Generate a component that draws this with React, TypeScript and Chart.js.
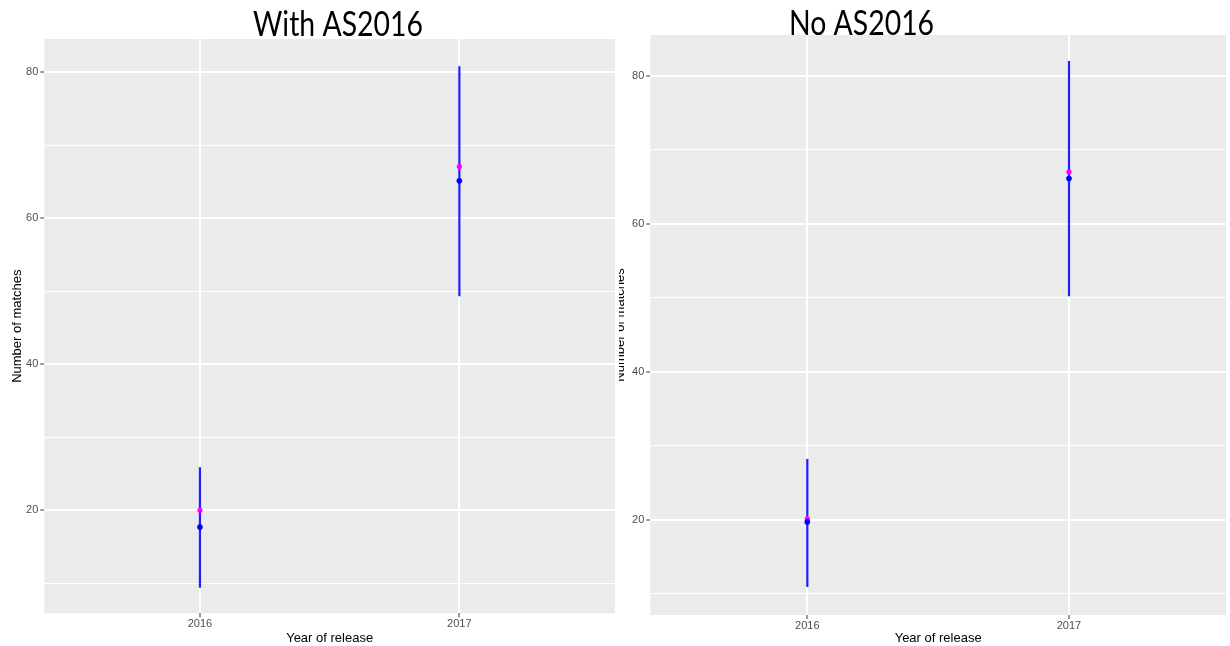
import React, { useEffect, useRef } from 'react';
import { Chart, registerables } from 'chart.js';

Chart.register(...registerables);

// ---- data ----
const years = [2016, 2017];
const xTickValues = [2016, 2017];
const yTickValues = [10, 20, 30, 40, 50, 60, 70, 80];
const yLabelValues = [20, 40, 60, 80];

const withLower = [9.4, 49.3];
const withUpper = [25.9, 80.8];
const withBlue = [17.7, 65.1];
const withMagenta = [20.0, 67.05];

const noLower = [10.9, 50.2];
const noUpper = [28.2, 82.0];
const noBlue = [19.7, 66.1];
const noMagenta = [20.1, 67.0];

const panelTitles = ['With AS2016', 'No AS2016'];
const xAxisTitle = 'Year of release';
const yAxisTitle = 'Number of matches';

const TICK_FONT = "'Liberation Sans', Arial, sans-serif";
const TITLE_FONT = "Lato, 'Open Sans', 'Liberation Sans', sans-serif";
const TITLE_REF_WIDTH = 170; // rendered width of the first panel title

type Panel = {
  title: string;
  lower: number[];
  upper: number[];
  blue: number[];
  magenta: number[];
  yMin: number;
  yMax: number;
  left: number;
  width: number;
  padTop: number;
  padRight: number;
  yAxisWidth: number;
  xAxisHeight: number;
  titleX: number;
  titleBaseline: number;
  yTitlePad: number;
};

const panels: Panel[] = [
  {
    title: panelTitles[0],
    lower: withLower,
    upper: withUpper,
    blue: withBlue,
    magenta: withMagenta,
    yMin: 5.9,
    yMax: 84.52,
    left: 0,
    width: 619,
    padTop: 39,
    padRight: 3.3,
    yAxisWidth: 44.3,
    xAxisHeight: 32.7,
    titleX: 338,
    titleBaseline: 36,
    yTitlePad: 9.2,
  },
  {
    title: panelTitles[1],
    lower: noLower,
    upper: noUpper,
    blue: noBlue,
    magenta: noMagenta,
    yMin: 7.12,
    yMax: 85.5,
    left: 619,
    width: 611,
    padTop: 35,
    padRight: 2,
    yAxisWidth: 31.3,
    xAxisHeight: 31,
    titleX: 242.5,
    titleBaseline: 35,
    yTitlePad: -6.3,
  },
];

function makeChart(canvas: HTMLCanvasElement, p: Panel) {
  const errorSets = years.map((yr, i) => ({
    label: 'range ' + yr,
    data: [
      { x: yr, y: p.lower[i] },
      { x: yr, y: p.upper[i] },
    ],
    showLine: true,
    borderColor: '#1f1fff',
    borderWidth: 2.2,
    pointRadius: 0,
    order: 2,
  }));

  const bgPlugin = {
    id: 'panelBg',
    beforeDraw(chart: any) {
      const { ctx, chartArea } = chart;
      ctx.save();
      ctx.fillStyle = '#EBEBEB';
      ctx.fillRect(chartArea.left, chartArea.top, chartArea.right - chartArea.left, chartArea.bottom - chartArea.top);
      ctx.restore();
    },
    afterDraw(chart: any) {
      const { ctx } = chart;
      ctx.save();
      ctx.fillStyle = '#000';
      ctx.font = `35px ${TITLE_FONT}`;
      const refW = ctx.measureText(panelTitles[0]).width;
      const sx = refW > 0 ? TITLE_REF_WIDTH / refW : 1;
      ctx.translate(p.titleX, p.titleBaseline);
      ctx.scale(sx, 1);
      ctx.textAlign = 'center';
      ctx.textBaseline = 'alphabetic';
      ctx.fillText(p.title, 0, 0);
      ctx.restore();
    },
  };

  return new Chart(canvas, {
    type: 'scatter',
    data: {
      datasets: [
        {
          label: 'blue',
          data: years.map((yr, i) => ({ x: yr, y: p.blue[i] })),
          backgroundColor: '#0000ff',
          borderColor: '#0000ff',
          pointRadius: 2.8,
          borderWidth: 0,
          order: 0,
        },
        {
          label: 'magenta',
          data: years.map((yr, i) => ({ x: yr, y: p.magenta[i] })),
          backgroundColor: '#ff00ff',
          borderColor: '#ff00ff',
          pointRadius: 2.6,
          borderWidth: 0,
          order: 1,
        },
        ...errorSets,
      ] as any,
    },
    options: {
      animation: false,
      responsive: false,
      devicePixelRatio: 1,
      layout: { padding: { top: p.padTop, right: p.padRight, left: 0, bottom: 0 } },
      plugins: {
        legend: { display: false },
        tooltip: { enabled: false },
        title: { display: false },
      },
      scales: {
        x: {
          type: 'linear',
          min: 2015.4,
          max: 2017.6,
          afterBuildTicks: (s: any) => {
            s.ticks = xTickValues.map((v) => ({ value: v }));
          },
          afterFit: (s: any) => {
            s.height = p.xAxisHeight;
          },
          ticks: {
            callback: (v: any) => String(v),
            color: '#4D4D4D',
            font: { family: TICK_FONT, size: 11 },
            padding: 0,
            maxRotation: 0,
            autoSkip: false,
          },
          grid: {
            color: '#ffffff',
            lineWidth: 2,
            tickColor: '#333333',
            tickWidth: 1,
            tickLength: 4,
          },
          border: { display: false },
          title: {
            display: true,
            text: xAxisTitle,
            color: '#000',
            font: { family: TICK_FONT, size: 13 },
            padding: { top: 0, bottom: 0 },
          },
        },
        y: {
          type: 'linear',
          min: p.yMin,
          max: p.yMax,
          afterBuildTicks: (s: any) => {
            s.ticks = yTickValues.map((v) => ({ value: v }));
          },
          afterFit: (s: any) => {
            s.width = p.yAxisWidth;
          },
          ticks: {
            callback: (v: any) => (yLabelValues.includes(v) ? String(v) : ''),
            color: '#4D4D4D',
            font: { family: TICK_FONT, size: 11 },
            padding: 2,
            autoSkip: false,
          },
          grid: {
            color: '#ffffff',
            lineWidth: (c: any) => (c.tick && yLabelValues.includes(c.tick.value) ? 2 : 1),
            tickColor: (c: any) =>
              c.tick && yLabelValues.includes(c.tick.value) ? '#333333' : 'rgba(0,0,0,0)',
            tickWidth: 1,
            tickLength: 4,
          },
          border: { display: false },
          title: {
            display: true,
            text: yAxisTitle,
            color: '#000',
            font: { family: TICK_FONT, size: 13 },
            padding: { top: p.yTitlePad, bottom: 0 },
          },
        },
      },
    } as any,
    plugins: [bgPlugin],
  });
}

function PanelCanvas({ p }: { p: Panel }) {
  const ref = useRef<HTMLCanvasElement | null>(null);
  useEffect(() => {
    if (!ref.current) return;
    const chart = makeChart(ref.current, p);
    return () => chart.destroy();
  }, [p]);
  return (
    <canvas
      ref={ref}
      width={p.width}
      height={646}
      style={{ position: 'absolute', left: p.left, top: 0, width: p.width, height: 646 }}
    />
  );
}

export default function App() {
  return (
    <div
      style={{
        position: 'absolute',
        left: 0,
        top: 0,
        width: 1230,
        height: 646,
        background: '#ffffff',
        overflow: 'hidden',
      }}
    >
      {panels.map((p) => (
        <PanelCanvas key={p.title} p={p} />
      ))}
    </div>
  );
}
